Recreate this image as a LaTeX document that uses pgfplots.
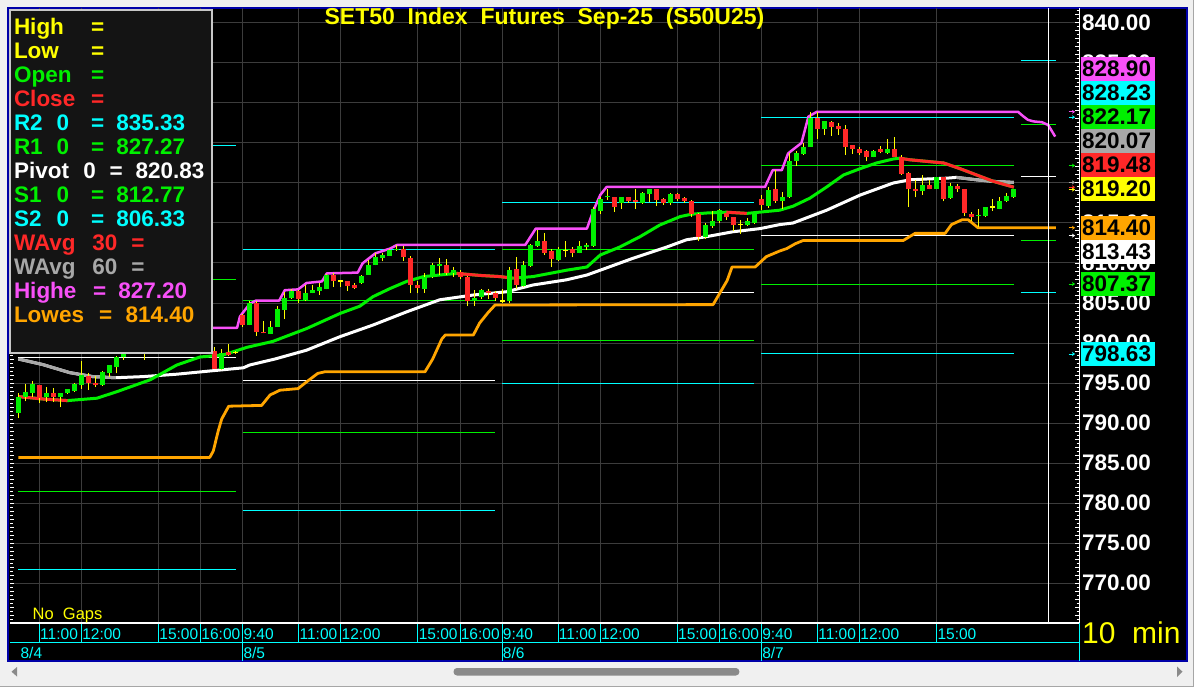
\documentclass[border=0pt]{standalone}
\usepackage{fontspec}
\setmainfont{Liberation Sans}
\usepackage{pgfplots}
\usepackage{pgfplotstable}
\pgfplotsset{compat=1.18}
\usetikzlibrary{arrows.meta}

\definecolor{cgreen}{HTML}{00F000}
\definecolor{cred}{HTML}{FF2828}
\definecolor{ccyan}{HTML}{00FFFF}
\definecolor{cyel}{HTML}{FFFF00}
\definecolor{cmag}{HTML}{F850F8}
\definecolor{corange}{HTML}{FFA500}
\definecolor{cgray}{HTML}{A8A8A8}
\definecolor{gridc}{HTML}{3C3C3C}
\definecolor{framec}{HTML}{F0F0F0}
\definecolor{bblue}{HTML}{0000A8}
\definecolor{lgbg}{HTML}{141414}
\definecolor{lgborder}{HTML}{C8C8C8}
\definecolor{thumbc}{HTML}{8A8A8A}

\newcommand{\lgfont}{\fontsize{22.5}{24}\selectfont\bfseries}
\newcommand{\lgt}[4]{\node[anchor=base west, inner sep=0pt, text=#1, font=\lgfont] at (#2,#3) {#4};}
\newcommand{\valbox}[3]{\fill[#1] (1081,#2) rectangle (1155,{#2+24});
  \node[anchor=base west, inner sep=0pt, text=black, font=\lgfont] at (1082,{#2+19.7}) {#3};}

% candles: bar index, open, high, low, close (10-min bars)
\pgfplotstableread{
i o h l c
5 791.3 793.75 790.6 793.2
6 793.3 794.9 792.7 793.9
7 793.8 795.25 793.3 794.9
8 794.75 794.8 792.5 793.1
9 793.2 794.5 792.6 793.75
10 793.75 794.4 792.6 793.2
11 793.2 793.8 792.0 793.75
12 793.7 794.3 793.6 794.2
13 794.0 795.0 793.9 794.9
14 794.7 797.75 794.3 796.0
15 795.9 796.2 794.1 795.0
16 795.0 795.9 794.5 794.7
17 794.7 796.5 794.6 796.4
18 796.3 797.3 795.75 797.25
19 797.0 798.4 796.2 798.2
20 798.2 799.3 797.9 798.9
21 798.9 800.0 798.6 799.6
22 799.6 800.1 798.8 799.2
23 799.2 800.6 797.9 800.4
24 800.4 801.5 800.2 801.2
25 801.2 801.9 800.5 800.8
26 800.8 801.0 799.7 800.1
27 800.1 800.9 799.8 800.5
28 800.5 800.7 799.4 799.8
29 799.8 800.4 799.5 800.2
30 800.2 800.3 799.2 799.6
31 799.6 800.2 799.3 799.9
32 799.9 800.0 798.6 799.0
33 799.0 799.45 796.7 796.75
34 796.75 799.3 796.6 798.8
35 798.9 799.9 798.4 798.5
36 798.8 799.0 798.6 798.8
37 803.5 803.6 802.0 802.25
38 802.25 805.3 802.2 804.96
39 804.96 805.2 800.9 801.4
40 801.4 802.7 801.2 801.2
41 801.1 802.8 801.1 802.0
42 802.0 804.6 802.0 804.25
43 804.1 806.4 803.0 805.6
44 805.6 806.7 805.5 806.5
45 806.5 806.6 805.0 805.5
46 805.4 807.3 805.2 806.3
47 806.2 807.3 806.2 806.6
48 806.5 807.5 806.0 807.0
49 806.75 808.6 806.7 808.5
50 808.5 808.8 807.0 807.7
51 807.75 807.9 807.0 807.75
52 807.75 807.75 806.5 807.1
53 807.25 807.5 806.75 806.9
54 807.5 808.5 807.4 808.4
55 808.5 810.4 808.5 809.75
56 809.75 811.3 809.7 810.8
57 810.6 811.3 810.2 811.0
58 810.9 811.8 810.9 811.6
59 811.6 812.2 811.5 811.7
60 811.8 812.1 810.2 810.7
61 810.6 810.9 806.2 807.25
62 807.25 807.7 806.2 806.9
63 806.8 808.7 806.3 808.3
64 808.2 810.0 808.1 809.75
65 809.6 810.6 808.5 809.9
66 809.75 810.5 808.5 808.8
67 808.8 809.5 808.3 809.1
68 808.9 809.1 808.0 808.2
69 808.3 808.4 804.6 805.2
70 805.2 806.6 804.6 805.6
71 805.7 806.8 805.5 806.6
72 806.5 806.7 805.5 806.2
73 806.2 806.5 805.3 805.6
74 805.25 806.8 805.0 805.25
75 805.3 809.5 804.95 809.1
76 809.2 810.7 806.8 807.25
77 807.1 810.3 807.0 809.75
78 809.6 812.4 809.5 812.25
79 812.1 814.1 812.0 812.8
80 812.8 813.7 811.0 811.3
81 811.5 811.7 809.5 810.5
82 810.4 812.0 810.3 811.75
83 811.6 812.8 810.7 811.6
84 811.7 812.0 810.7 811.3
85 811.3 812.8 811.2 812.1
86 812.0 812.5 811.6 812.2
87 812.1 817.0 812.0 816.7
88 816.5 818.3 816.1 818.0
89 818.2 819.3 817.9 818.4
90 818.2 818.3 816.4 817.0
91 817.5 818.3 816.8 818.2
92 818.2 818.3 817.5 817.7
93 817.9 819.2 816.8 817.6
94 817.5 818.9 817.4 818.8
95 818.6 819.3 817.6 819.25
96 819.25 819.3 817.1 817.9
97 817.95 818.1 817.3 817.5
98 817.5 818.7 817.2 818.6
99 818.6 818.7 817.8 818.0
100 818.1 818.2 817.5 817.7
101 817.7 817.9 815.8 816.1
102 816.1 816.2 812.7 813.3
103 813.3 815.0 813.0 814.75
104 814.6 816.5 814.4 815.3
105 815.2 816.75 815.0 816.6
106 816.2 816.3 815.4 815.8
107 815.7 815.8 814.0 814.75
108 814.8 815.4 813.6 814.8
109 814.75 815.6 814.6 815.25
110 814.95 816.3 814.9 816.2
111 818.0 818.5 816.6 817.2
112 817.1 819.5 816.9 819.1
113 819.25 821.6 817.5 817.75
114 817.7 818.9 816.8 818.3
115 818.2 823.7 818.1 822.75
116 822.7 824.0 822.1 823.7
117 823.6 825.0 823.5 824.5
118 824.5 828.9 824.5 828.1
119 828.1 828.9 825.5 826.7
120 826.7 827.8 826.0 827.7
121 827.6 827.8 825.9 827.0
122 827.1 827.5 826.0 826.7
123 826.8 827.25 823.5 824.5
124 824.75 824.75 823.6 824.25
125 824.3 824.5 823.5 823.8
126 824.0 824.1 822.7 823.3
127 823.3 824.1 823.2 824.0
128 824.2 824.6 823.7 823.9
129 823.7 825.5 823.6 824.2
130 824.2 825.8 823.2 823.3
131 823.3 823.5 821.0 821.1
132 821.3 821.4 817.0 819.2
133 819.3 820.4 818.2 819.0
134 819.0 821.0 818.5 819.75
135 819.75 820.4 819.2 819.3
136 819.3 820.8 819.2 820.7
137 820.7 820.8 817.7 818.0
138 818.1 820.0 818.0 819.6
139 819.6 819.9 818.9 819.25
140 819.3 819.3 815.9 816.2
141 816.1 816.4 815.3 815.8
142 815.9 816.8 814.5 816.0
143 815.9 817.0 815.8 817.0
144 817.0 818.0 816.5 817.0
145 816.8 818.3 816.7 817.8
146 817.7 818.8 817.6 818.4
147 818.2 819.3 818.1 819.2
}\candles

% WAvg 30 (d=1: falling, drawn red)
\pgfplotstableread{
i w d
5 793.3 1
8.5 793.0 1
12 792.8 1
16.2 793.1 0
19 793.9 0
23.8 795.4 0
27.6 797.25 0
30.9 798.25 0
34.2 798.5 0
37.6 799.46 0
41.3 800.2 0
46.1 801.8 0
50.9 803.7 0
53.7 804.6 0
55.6 805.8 0
58.0 806.8 0
60.4 807.7 0
62.8 808.3 0
65.1 808.5 0
67.5 808.7 1
70.8 808.45 1
73.7 808.3 1
75.5 808.1 1
78.4 808.3 0
83.2 809.1 0
86.1 809.5 0
88.0 811.0 0
90.8 812.0 0
93.7 813.3 0
96.5 814.75 0
99.4 815.8 0
101.0 816.1 0
103.2 816.25 0
106.0 816.35 1
108.9 816.2 1
113.6 816.6 0
115.5 817.1 0
117.9 818.1 0
120.3 819.5 0
122.7 821.0 0
125.1 821.8 0
127.4 822.5 0
129.8 823.0 0
130.7 823.1 1
132.2 822.9 1
134.6 822.7 1
137.0 822.5 1
139.3 821.8 1
141.7 821.0 1
144.1 820.2 1
147 819.48 1
}\wavgA

% WAvg 60 (d=1: falling, drawn grey)
\pgfplotstableread{
i w d
5 798.0 1
8.5 797.3 1
12.3 796.3 1
15.6 795.8 1
18.9 795.66 1
22.8 795.8 0
27.6 796.1 0
32.3 796.5 0
37.1 796.9 0
38.0 797.25 0
41.6 798.0 0
46.1 799.1 0
50.9 800.8 0
55.6 802.25 0
60.4 803.9 0
65.1 805.4 0
69.9 806.0 0
74.6 806.4 0
78.4 807.25 0
83.2 807.9 0
86.1 808.5 0
88.0 809.1 0
92.7 810.6 0
97.5 812.0 0
100.3 812.9 0
103.2 813.3 0
106.9 813.9 0
110.8 814.3 0
113.6 814.8 0
115.5 815.0 0
120.3 816.6 0
125.1 818.5 0
129.8 820.0 0
132.2 820.4 0
134.6 820.5 0
137.4 820.6 0
138.8 820.7 1
141.7 820.4 1
144.1 820.2 1
147 820.07 1
}\wavgB

% Highest high
\pgfplotstableread{
i v
5 801.9
36.2 801.9
36.6 803.3
38.0 804.9
38.9 805.3
42.2 805.3
43.0 806.6
44.9 806.7
46.1 807.5
48.3 807.7
49.0 808.7
53.4 808.8
54.1 809.96
55.9 811.2
58.0 811.8
59.0 812.25
77.3 812.25
78.8 814.3
86.1 814.3
87.0 816.5
88.0 818.5
88.9 819.5
111.5 819.5
112.6 821.6
113.9 821.6
114.8 823.7
116.7 825.0
117.7 828.3
118.9 828.9
147.6 828.9
148.4 828.3
149.0 827.9
149.8 827.7
151.0 827.6
151.9 827.25
152.9 825.8
}\highe

% Lowest low
\pgfplotstableread{
i v
5 785.7
32.3 785.7
32.8 786.5
33.5 789.0
34.0 790.5
35.0 792.1
39.7 792.2
40.9 793.5
42.3 794.1
44.9 794.3
45.9 795.0
47.7 796.2
48.7 796.4
63.0 796.4
64.1 798.0
65.4 800.5
65.9 801.0
69.9 801.0
70.8 802.5
72.0 803.8
73.0 804.75
104.1 804.8
105.1 806.3
106.1 807.8
106.8 809.5
110.1 809.5
111.7 810.8
113.6 811.5
114.6 811.8
115.8 812.4
116.9 812.8
131.2 812.8
132.9 813.7
137.2 813.7
138.1 814.8
139.6 815.4
140.5 815.4
141.9 814.4
153.0 814.4
}\lowes

\begin{document}
\begin{tikzpicture}
% ---------- window frame ----------
\begin{scope}[x=1pt,y=-1pt]
\fill[framec] (0,0) rectangle (1194,687);
\draw[bblue, line width=2pt, fill=black] (7.7,7.7) rectangle (1186.7,661.2);
\fill[thumbc, rounded corners=3.5pt] (453.5,668) rectangle (739.4,675.5);
\fill[thumbc] (17,667) -- (11.5,671.7) -- (17,676.5) -- cycle;
\fill[thumbc] (1177,666.5) -- (1182.5,671.7) -- (1177,677) -- cycle;
\draw[gray!70, line width=1pt] (1193,0) -- (1193,687);
\draw[gray!70, line width=1pt] (0,686.5) -- (1194,686.5);
\end{scope}

\begin{axis}[
  scale only axis, width=1069.3pt, height=614.5pt,
  at={(10pt,-623pt)}, anchor=south west,
  xmin=3.8, xmax=156.34, ymin=765, ymax=841.8125,
  axis line style={draw=none},
  tick style={draw=none},
  grid=major, major grid style={draw=gridc, line width=1pt},
  xtick={8,14,25,31,37,45,51,62,68,74,82,88,99,105,111,119,125,136},
  xticklabels={11:00,12:00,15:00,16:00,9:40,11:00,12:00,15:00,16:00,9:40,11:00,12:00,15:00,16:00,9:40,11:00,12:00,15:00},
  xticklabel style={anchor=north west, inner sep=0pt, xshift=0.6pt, yshift=-5.2pt, text=ccyan, font=\fontsize{15.5}{18}\selectfont},
  ytick={770,775,780,785,790,795,800,805,810,815,820,825,830,835,840},
  yticklabels={770.00,775.00,780.00,785.00,790.00,795.00,800.00,805.00,810.00,815.00,,,,835.00,840.00},
  yticklabel pos=right,
  yticklabel style={anchor=west, inner sep=0pt, xshift=2.7pt, text=white, font=\lgfont},
  clip mode=individual,
  unbounded coords=jump,
  title={SET50\ \ Index\ \ Futures\ \ Sep-25\ \ (S50U25)},
  title style={at={(0.4998,1)}, anchor=base, yshift=-22.5pt, text=cyel, font=\fontsize{23}{25}\selectfont\bfseries},
]
% pivot levels per day
\addplot[ccyan, line width=1pt] coordinates {(5,824.65) (36,824.65) (36.5,nan) (37,811.71) (73,811.71) (73.5,nan) (74,817.59) (110,817.59) (110.5,nan) (111,828.23) (147,828.23) (147.5,nan) (148,835.33) (153,835.33)};
\addplot[cgreen, line width=1pt] coordinates {(5,807.9) (36,807.9) (36.5,nan) (37,805.25) (73,805.25) (73.5,nan) (74,811.625) (110,811.625) (110.5,nan) (111,822.17) (147,822.17) (147.5,nan) (148,827.27) (153,827.27)};
\addplot[white, line width=1pt] coordinates {(5,798.2) (36,798.2) (36.5,nan) (37,795.375) (73,795.375) (73.5,nan) (74,806.34) (110,806.34) (110.5,nan) (111,813.43) (147,813.43) (147.5,nan) (148,820.83) (153,820.83)};
\addplot[cgreen, line width=1pt] coordinates {(5,781.45) (36,781.45) (36.5,nan) (37,788.84) (73,788.84) (73.5,nan) (74,800.375) (110,800.375) (110.5,nan) (111,807.37) (147,807.37) (147.5,nan) (148,812.77) (153,812.77)};
\addplot[ccyan, line width=1pt] coordinates {(5,771.7) (36,771.7) (36.5,nan) (37,779.09) (73,779.09) (73.5,nan) (74,795.0) (110,795.0) (110.5,nan) (111,798.63) (147,798.63) (147.5,nan) (148,806.33) (153,806.33)};
% weighted averages
\addplot[white, line width=3pt, line join=round] table[x=i,y=w] {\wavgB};
\addplot[cgray, line width=3pt, line join=round, restrict expr to domain={\thisrow{d}}{0.5:1.5}] table[x=i,y=w] {\wavgB};
\addplot[cgreen, line width=3pt, line join=round] table[x=i,y=w] {\wavgA};
\addplot[cred, line width=3pt, line join=round, restrict expr to domain={\thisrow{d}}{0.5:1.5}] table[x=i,y=w] {\wavgA};
% highest / lowest
\addplot[cmag, line width=2.5pt, line join=round] table[x=i,y=v] {\highe};
\addplot[corange, line width=2.8pt, line join=round] table[x=i,y=v] {\lowes};
% candles: wicks
\addplot[draw=none, mark=none, error bars/.cd, y dir=plus, y explicit, error mark=none, error bar style={draw=cyel, line width=1pt}] table[x=i, y=l, y error expr=\thisrow{h}-\thisrow{l}] {\candles};
% up bodies
\addplot[draw=none, mark=none, restrict expr to domain={\thisrow{c}-\thisrow{o}}{0.01:100}, error bars/.cd, y dir=plus, y explicit, error mark=none, error bar style={draw=cgreen, line width=5pt}] table[x=i, y=o, y error expr=\thisrow{c}-\thisrow{o}] {\candles};
% down bodies
\addplot[draw=none, mark=none, restrict expr to domain={\thisrow{o}-\thisrow{c}}{0.01:100}, error bars/.cd, y dir=plus, y explicit, error mark=none, error bar style={draw=cred, line width=5pt}] table[x=i, y=c, y error expr=\thisrow{o}-\thisrow{c}] {\candles};
% doji
\addplot[only marks, mark=-, mark size=2.6pt, mark options={draw=cyel, line width=1.2pt}, restrict expr to domain={abs(\thisrow{c}-\thisrow{o})}{0:0.009}] table[x=i, y=c] {\candles};
% cursor line
\draw[white, line width=1.2pt] (axis cs:152,765) -- (axis cs:152,841.8125);
% time-axis separators and dates
\pgfplotsinvokeforeach{8,14,25,31,45,51,62,68,82,88,99,105,119,125,136}{\draw[ccyan, line width=1pt] (axis cs:#1,765) -- ++(0pt,-19pt);}
\pgfplotsinvokeforeach{37,74,111}{\draw[ccyan, line width=1pt] (axis cs:#1,765) -- ++(0pt,-38pt);}
\node[anchor=base west, inner sep=0pt, text=ccyan, font=\fontsize{15.5}{18}\selectfont, yshift=-35pt] at (axis cs:5.28,765) {8/4};
\node[anchor=base west, inner sep=0pt, text=ccyan, font=\fontsize{15.5}{18}\selectfont, xshift=0.6pt, yshift=-35pt] at (axis cs:37,765) {8/5};
\node[anchor=base west, inner sep=0pt, text=ccyan, font=\fontsize{15.5}{18}\selectfont, xshift=0.6pt, yshift=-35pt] at (axis cs:74,765) {8/6};
\node[anchor=base west, inner sep=0pt, text=ccyan, font=\fontsize{15.5}{18}\selectfont, xshift=0.6pt, yshift=-35pt] at (axis cs:111,765) {8/7};
\end{axis}

% ---------- decorations ----------
\begin{scope}[x=1pt,y=-1pt]
\draw[white, line width=1.3pt] (1079.3,8.5) -- (1079.3,623) -- (10,623);
\draw[ccyan, line width=1pt] (1079.3,623) -- (1079.3,661);
\draw[ccyan, line width=1pt] (10,642) -- (1079.3,642);
\foreach \k in {0,2,...,152} {
  \draw[white, line width=1pt] (1075,{623-4*\k}) -- (1079.3,{623-4*\k});
  \draw[white, line width=1pt] (10,{623-4*\k}) -- (14,{623-4*\k});}
\foreach \k in {1,3,...,153} {
  \draw[white, line width=1pt] (1076.6,{623-4*\k}) -- (1079.3,{623-4*\k});
  \draw[white, line width=1pt] (10,{623-4*\k}) -- (12.5,{623-4*\k});}
% arrows at current values
\draw[cmag, line width=0.9pt, -{Stealth[length=3pt,width=4pt]}] (1068.5,111.8) -- (1075,111.8);
\draw[ccyan, line width=0.9pt, -{Stealth[length=3pt,width=4pt]}] (1068.5,117.2) -- (1075,117.2);
\draw[cgreen, line width=0.9pt, -{Stealth[length=3pt,width=4pt]}] (1068.5,165.6) -- (1075,165.6);
\draw[cgray, line width=0.9pt, -{Stealth[length=3pt,width=4pt]}] (1068.5,182.4) -- (1075,182.4);
\draw[cred, line width=0.9pt, -{Stealth[length=3pt,width=4pt]}] (1068.5,187.2) -- (1075,187.2);
\draw[cyel, line width=0.9pt, -{Stealth[length=3pt,width=4pt]}] (1068.5,189.6) -- (1075,189.6);
\draw[corange, line width=0.9pt, -{Stealth[length=3pt,width=4pt]}] (1068.5,227.8) -- (1075,227.8);
\draw[white, line width=0.9pt, -{Stealth[length=3pt,width=4pt]}] (1068.5,235.6) -- (1075,235.6);
\draw[cgreen, line width=0.9pt, -{Stealth[length=3pt,width=4pt]}] (1068.5,284) -- (1075,284);
\draw[ccyan, line width=0.9pt, -{Stealth[length=3pt,width=4pt]}] (1068.5,354) -- (1075,354);
% value boxes
\valbox{cmag}{57}{828.90}
\valbox{ccyan}{81}{828.23}
\valbox{cgreen}{105}{822.17}
\valbox{cgray}{129}{820.07}
\valbox{cred}{153}{819.48}
\valbox{cyel}{177}{819.20}
\valbox{corange}{216}{814.40}
\valbox{white}{240}{813.43}
\valbox{cgreen}{272}{807.37}
\valbox{ccyan}{342}{798.63}
% other texts
\node[anchor=base west, inner sep=0pt, text=cyel, font=\fontsize{30}{32}\selectfont] at (1082,643.3) {10\ \ min};
\node[anchor=base west, inner sep=0pt, text=cyel, font=\fontsize{16.5}{18}\selectfont] at (32.5,619.3) {No\ \ Gaps};
% data window
\draw[lgborder, line width=2pt, fill=lgbg] (10,9.7) rectangle (211.7,353.3);
\lgt{cyel}{13.8}{35}{High} \lgt{cyel}{90.8}{35}{=}
\lgt{cyel}{13.8}{58.9}{Low} \lgt{cyel}{90.8}{58.9}{=}
\lgt{cgreen}{13.8}{82.8}{Open} \lgt{cgreen}{90.8}{82.8}{=}
\lgt{cred}{13.8}{106.8}{Close} \lgt{cred}{90.8}{106.8}{=}
\lgt{ccyan}{13.8}{130.7}{R2} \lgt{ccyan}{56.5}{130.7}{0} \lgt{ccyan}{90.8}{130.7}{=} \lgt{ccyan}{116.1}{130.7}{835.33}
\lgt{cgreen}{13.8}{154.6}{R1} \lgt{cgreen}{56.5}{154.6}{0} \lgt{cgreen}{90.8}{154.6}{=} \lgt{cgreen}{116.1}{154.6}{827.27}
\lgt{white}{13.8}{178.5}{Pivot} \lgt{white}{83.1}{178.5}{0} \lgt{white}{109.5}{178.5}{=} \lgt{white}{135.5}{178.5}{820.83}
\lgt{cgreen}{13.8}{202.4}{S1} \lgt{cgreen}{56.5}{202.4}{0} \lgt{cgreen}{90.8}{202.4}{=} \lgt{cgreen}{116.1}{202.4}{812.77}
\lgt{ccyan}{13.8}{226.4}{S2} \lgt{ccyan}{56.5}{226.4}{0} \lgt{ccyan}{90.8}{226.4}{=} \lgt{ccyan}{116.1}{226.4}{806.33}
\lgt{cred}{13.8}{250.3}{WAvg} \lgt{cred}{92.1}{250.3}{30} \lgt{cred}{131.1}{250.3}{=}
\lgt{cgray}{13.8}{274.2}{WAvg} \lgt{cgray}{92.1}{274.2}{60} \lgt{cgray}{131.1}{274.2}{=}
\lgt{cmag}{13.8}{298.1}{Highe} \lgt{cmag}{92.8}{298.1}{=} \lgt{cmag}{118.1}{298.1}{827.20}
\lgt{corange}{13.8}{322}{Lowes} \lgt{corange}{98.8}{322}{=} \lgt{corange}{125.5}{322}{814.40}
\end{scope}
\pgfresetboundingbox
\path[use as bounding box] (0pt,0pt) rectangle (1194pt,-687pt);
\end{tikzpicture}
\end{document}
